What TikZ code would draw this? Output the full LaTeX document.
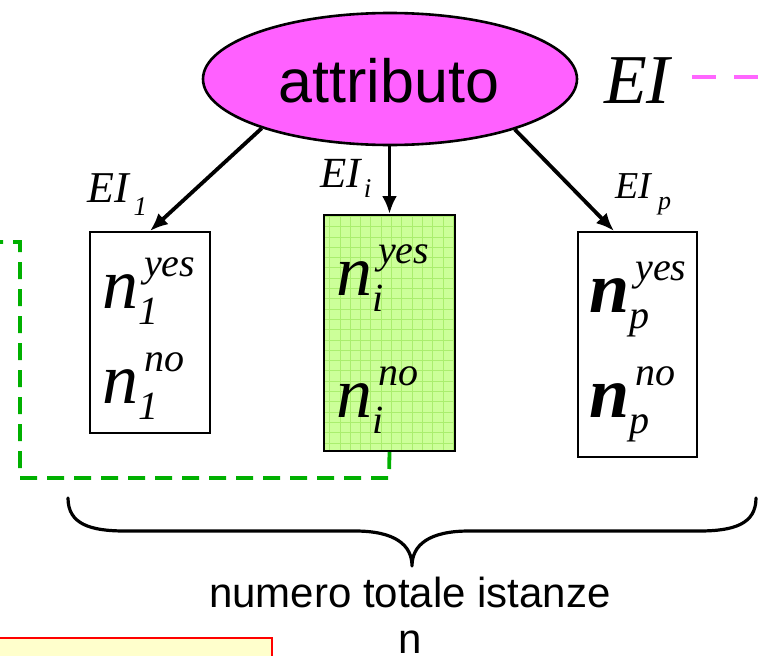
\documentclass[tikz,border=0pt]{standalone}
\usepackage{fontspec}
\setmainfont{Liberation Serif}
\newfontfamily\arialf{Liberation Sans}
\usetikzlibrary{arrows.meta,shapes.geometric}
\definecolor{attrpink}{RGB}{255,96,255}
\definecolor{dashpink}{RGB}{255,102,255}
\definecolor{boxgreen}{RGB}{204,255,153}
\definecolor{gridgreen}{RGB}{170,238,110}
\definecolor{dashgreen}{RGB}{0,176,0}
\definecolor{notebg}{RGB}{255,255,204}
\newcommand\nterm[3]{{\fontsize{72}{72}\selectfont\itshape #3n}\rlap{\kern6pt\raisebox{32pt}{\fontsize{40}{40}\selectfont\itshape #2}}\raisebox{-16pt}{\fontsize{40}{40}\selectfont\itshape #1}}
\tikzset{
  valbox/.style={draw=black, line width=2pt},
  nlabel/.style={anchor=base west, inner sep=0pt},
  eilabel/.style={anchor=base west, inner sep=0pt},
  arr/.style={line width=3.8pt, -{Latex[length=18pt,width=15pt]}},
}
\begin{document}
\begin{tikzpicture}[x=1pt,y=-1pt]
\useasboundingbox (0,0) rectangle (758,656);
% note box (bottom left)
\draw[red, line width=1.6pt, fill=notebg] (-5,638) rectangle (272,700);
% ellipse
\node[ellipse, draw=black, line width=2.6pt, fill=attrpink, minimum width=374pt, minimum height=132pt, inner sep=0pt] (attr) at (390,79) {};
\node[anchor=base, inner sep=0pt] (attrtxt) at (389,102) {\arialf\fontsize{61}{61}\selectfont attributo};
% EI
\node[anchor=base west, inner sep=0pt] (ei) at (604,103) {\fontsize{70}{70}\selectfont\itshape EI};
\coordinate (pk1) at (692,77);
\coordinate (pk2) at (780,77);
\draw[dashpink, line width=4pt, dash pattern=on 24pt off 18pt] (pk1) -- (pk2);
% boxes
\node[valbox, anchor=north west, minimum width=120pt, minimum height=201pt, inner sep=0pt] (box1) at (89,231) {};
\fill[boxgreen] (323,214) rectangle (454,450);
\begin{scope}
\clip (323,214) rectangle (454,450);
\draw[gridgreen, line width=0.7pt] (323,214) grid[step=10.3pt] (454,450);
\end{scope}
\node[valbox, anchor=north west, minimum width=131pt, minimum height=236pt, inner sep=0pt] (box2) at (323,214) {};
\node[valbox, anchor=north west, minimum width=119pt, minimum height=225pt, inner sep=0pt] (box3) at (577,231) {};
% contents
\node[nlabel] (n1y) at (102,308) {\nterm{1}{yes}{}};
\node[nlabel] (n1n) at (102,403) {\nterm{1}{no}{}};
\node[nlabel] (niy) at (336,295) {\nterm{i}{yes}{}};
\node[nlabel] (nin) at (336,417) {\nterm{i}{no}{}};
\node[nlabel] (npy) at (589,312) {\nterm{p}{yes}{\bfseries}};
\node[nlabel] (npn) at (589,417) {\nterm{p}{no}{\bfseries}};
% EI labels
\node[eilabel] (ei1) at (87,202) {\fontsize{44}{44}\selectfont\itshape EI\kern5pt\raisebox{-13pt}{\fontsize{27}{27}\selectfont 1}};
\node[eilabel] (eii) at (320,187) {\fontsize{43}{43}\selectfont\itshape EI\kern3pt\raisebox{-10pt}{\fontsize{27}{27}\selectfont i}};
\node[eilabel] (eip) at (615,198) {\fontsize{38}{38}\selectfont\itshape EI\kern7pt\raisebox{-11pt}{\fontsize{26}{26}\selectfont p}};
% arrows
\coordinate (a3end) at (614,231);
\draw[arr] (attr.201) -- (box1.north);
\draw[arr] (attr.south -| box2.north) -- (box2.north);
\draw[arr] (attr.338) -- (a3end);
% green dashed
\coordinate (g1) at (389,478);
\coordinate (g2) at (20,478);
\coordinate (g3) at (20,242);
\coordinate (g4) at (-12,242);
\draw[dashgreen, line width=3.8pt, dash pattern=on 17pt off 10pt] (box2.south) -- (g1) -- (g2) -- (g3) -- (g4);
% brace
\coordinate (bl) at (68,498);
\coordinate (bt) at (412,566);
\coordinate (br) at (756,498);
\draw[line width=3.2pt, line cap=round, line join=round] (bl) .. controls (68,524) and (90,531) .. (125,531) -- (355,531) .. controls (395,531) and (412,545) .. (bt) .. controls (412,545) and (429,531) .. (469,531) -- (699,531) .. controls (734,531) and (756,524) .. (br);
% bottom text
\node[anchor=base, inner sep=0pt] (tot) at (410,607) {\arialf\fontsize{42}{42}\selectfont numero totale istanze};
\node[anchor=base, inner sep=0pt] (ntot) at (410,653) {\arialf\fontsize{42}{42}\selectfont n};
\end{tikzpicture}
\end{document}
